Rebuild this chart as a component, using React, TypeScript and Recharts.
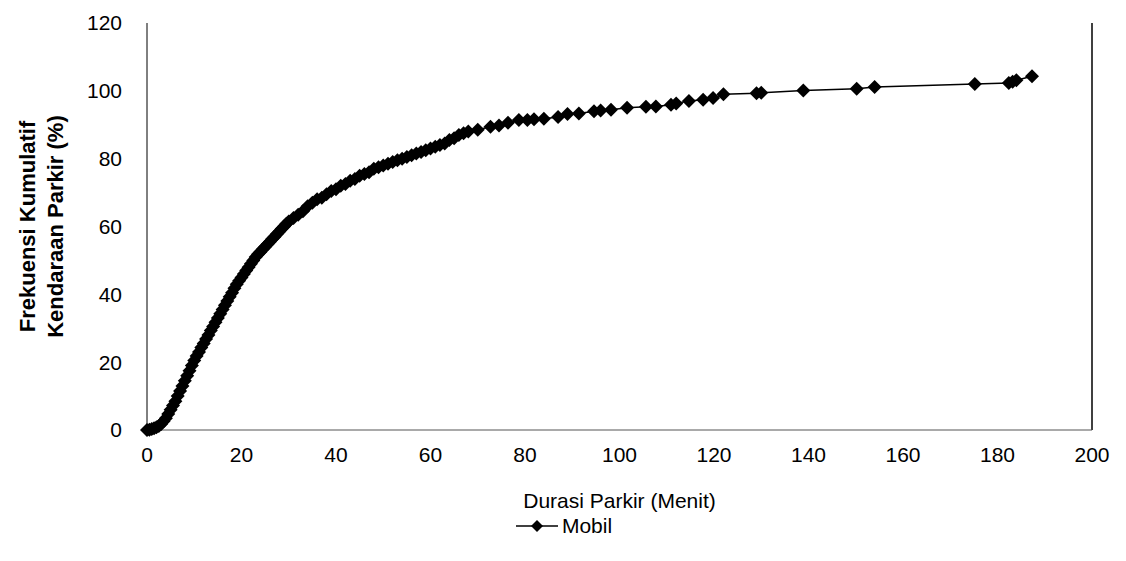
import { LineChart, Line, XAxis, YAxis, Legend, ReferenceLine } from 'recharts';

// Durasi parkir (menit) dan frekuensi kumulatif (%)
const durasi = [
  0, 0.5, 1, 1.5, 2, 2.5, 3, 3.5, 4, 4.5, 5, 5.5, 6, 6.5, 7, 7.5, 8, 8.5, 9, 9.5, 10,
  10.5, 11, 11.5, 12, 12.5, 13, 13.5, 14, 14.5, 15, 15.5, 16, 16.5, 17, 17.5, 18, 18.5, 19, 19.5, 20,
  20.5, 21, 21.5, 22, 22.5, 23, 23.5, 24, 24.5, 25, 25.5, 26, 26.5, 27, 27.5, 28, 28.5, 29, 29.5, 30,
  31, 32, 33, 34, 35, 36, 37, 38, 39, 40,
  41, 42, 43, 44, 45, 46, 47, 48, 49, 50, 51, 52, 53, 54, 55, 56, 57, 58, 59, 60,
  61, 62, 63, 64, 65, 66, 67, 68, 70, 72.7, 74.5, 76.4, 78.7, 80.5, 81.9, 84, 87,
  89, 91.4, 94.6, 96, 98.2, 101.6, 105.6, 107.7, 110.9, 112, 114.7, 117.7, 119.8,
  122, 129, 130, 138.9, 150.2, 154, 175.2, 182.4, 183.2, 184, 187.3,
];
const frekuensi = [
  0, 0.1, 0.3, 0.5, 0.8, 1.2, 1.8, 2.6, 3.5, 4.7, 6, 7.2, 8.5, 10, 11.5, 13, 14.5, 16, 17.5, 19, 20.5,
  21.8, 23, 24.3, 25.5, 26.8, 28, 29.3, 30.5, 31.8, 33, 34.3, 35.5, 36.8, 38, 39.3, 40.5, 41.8, 43, 44, 45,
  46, 47, 48, 49, 50, 51, 51.8, 52.5, 53.3, 54, 54.8, 55.5, 56.3, 57, 57.8, 58.5, 59.3, 60, 60.8, 61.5,
  62.5, 63.5, 64.5, 66, 67, 68, 68.5, 69.5, 70.5, 71,
  72, 72.5, 73.5, 74, 75, 75.5, 76, 77, 77.5, 78, 78.5, 79, 79.5, 80, 80.5, 81, 81.5, 82, 82.5, 83,
  83.5, 84, 84.5, 85.5, 86, 87, 87.5, 88, 88.5, 89.4, 89.8, 90.6, 91.4, 91.4, 91.6, 91.8, 92.3,
  93.2, 93.3, 94, 94.2, 94.4, 95, 95.3, 95.4, 95.9, 96.3, 97, 97.4, 97.9,
  99, 99.3, 99.4, 100.1, 100.6, 101.1, 102, 102.3, 102.7, 103.1, 104.3,
];
const xTicks = [0, 20, 40, 60, 80, 100, 120, 140, 160, 180, 200];
const yTicks = [0, 20, 40, 60, 80, 100, 120];

const data = durasi.map((x, i) => ({ durasi: x, mobil: frekuensi[i] }));

const font = '"Liberation Sans", Arial, sans-serif';

const Diamond = (props: any) => {
  const { cx, cy, index } = props;
  const r = 7;
  return (
    <polygon
      key={`d-${index}`}
      points={`${cx},${cy - r} ${cx + r},${cy} ${cx},${cy + r} ${cx - r},${cy}`}
      fill="#000"
    />
  );
};

const YTitle = (props: any) => {
  const { viewBox } = props;
  const cy = viewBox.y + viewBox.height / 2;
  return (
    <g fontFamily={font} fontWeight="bold" fontSize={22} fill="#000">
      <text x={35} y={cy} textAnchor="middle" transform={`rotate(-90, 35, ${cy})`}>
        Frekuensi Kumulatif
      </text>
      <text x={63} y={cy} textAnchor="middle" transform={`rotate(-90, 63, ${cy})`}>
        Kendaraan Parkir (%)
      </text>
    </g>
  );
};

const LegendContent = () => (
  <div style={{ display: 'flex', justifyContent: 'center', alignItems: 'center', fontFamily: font, fontSize: 21 }}>
    <svg width={46} height={20}>
      <line x1={2} y1={10} x2={44} y2={10} stroke="#000" strokeWidth={1.5} />
      <polygon points="23,4 29,10 23,16 17,10" fill="#000" />
    </svg>
    <span style={{ marginLeft: 2 }}>Mobil</span>
  </div>
);

export default function App() {
  return (
    <div style={{ position: 'absolute', left: 0, top: 0, width: 1126, height: 561, background: '#fff' }}>
      <LineChart width={1126} height={561} data={data} margin={{ top: 23, right: 34, bottom: 51, left: 0 }}>
        <XAxis
          dataKey="durasi"
          type="number"
          domain={[0, 200]}
          ticks={xTicks}
          height={80}
          tickLine={false}
          tickSize={0}
          tickMargin={17}
          stroke="#555"
          tick={{ fill: '#000', fontSize: 21, fontFamily: font }}
          label={{ value: 'Durasi Parkir (Menit)', position: 'insideBottom', offset: 2, fill: '#000', fontSize: 21, fontFamily: font }}
        />
        <YAxis
          type="number"
          domain={[0, 120]}
          ticks={yTicks}
          width={147}
          tickLine={false}
          tickSize={0}
          tickMargin={25}
          stroke="#000"
          tick={{ fill: '#000', fontSize: 21, fontFamily: font }}
          label={<YTitle />}
        />
        <ReferenceLine x={200} stroke="#000" strokeWidth={1.5} ifOverflow="extendDomain" />
        <Legend
          verticalAlign="middle"
          layout="horizontal"
          content={<LegendContent />}
          wrapperStyle={{ top: 514, left: 0, width: 1126 }}
        />
        <Line
          type="linear"
          dataKey="mobil"
          name="Mobil"
          stroke="#000"
          strokeWidth={1.5}
          dot={<Diamond />}
          isAnimationActive={false}
        />
      </LineChart>
    </div>
  );
}
